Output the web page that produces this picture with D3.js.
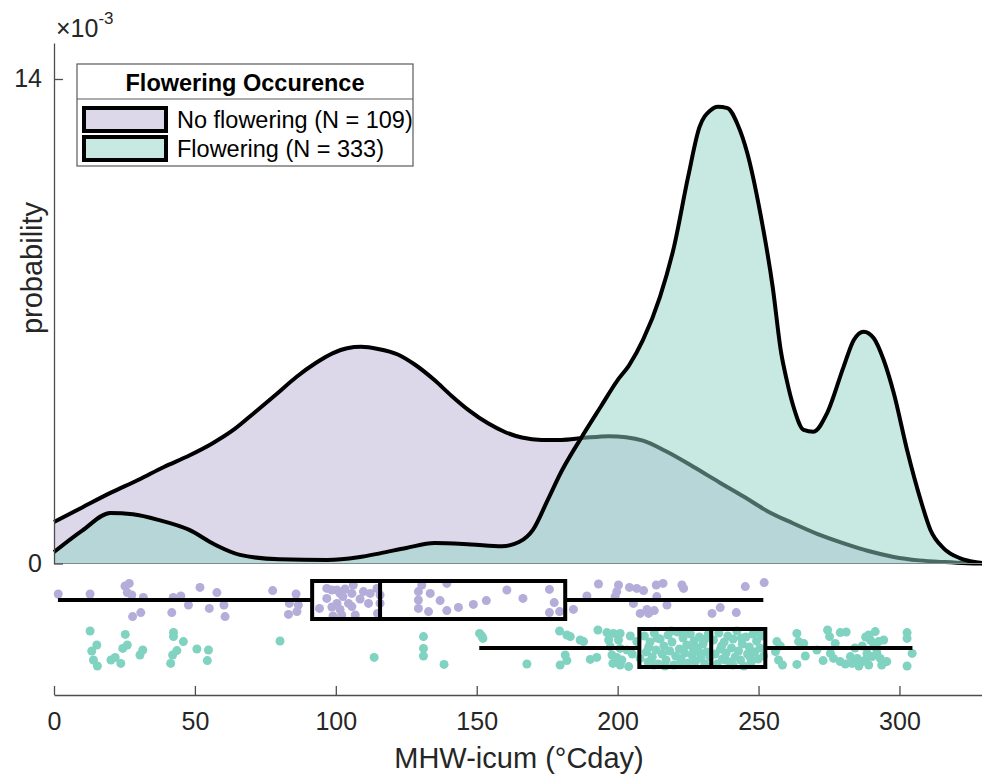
<!DOCTYPE html>
<html lang="en">
<head>
<meta charset="UTF-8">
<title>Flowering occurence raincloud</title>
<script src="https://d3js.org/d3.v7.min.js"></script>
<style>
  body { margin: 0; background: #fff; }
  svg { display: block; font-family: "Liberation Sans", Arial, Helvetica, sans-serif; }
</style>
</head>
<body>
<svg width="982" height="775"></svg>
<script>
// density curves (x in °Cday, y in probability x 1e-3)
const noFlowerDensX = [0, 10, 20, 30, 39, 48, 56, 64, 71, 79, 86, 93, 99, 104, 109, 115, 122, 128, 135, 141, 147, 154, 160, 166, 173, 180, 188, 197, 203, 209, 217, 227, 236, 245, 253, 262, 271, 280, 289, 298, 307, 316, 324, 330];
const noFlowerDensY = [1.20, 1.62, 2.04, 2.42, 2.79, 3.12, 3.46, 3.88, 4.35, 4.90, 5.39, 5.80, 6.08, 6.22, 6.26, 6.20, 6.04, 5.75, 5.30, 4.85, 4.44, 4.05, 3.80, 3.64, 3.57, 3.57, 3.63, 3.68, 3.65, 3.55, 3.25, 2.79, 2.35, 1.92, 1.52, 1.17, 0.85, 0.59, 0.36, 0.19, 0.09, 0.04, 0.01, 0.0];

const flowerDensX = [0, 10, 20, 28, 37, 48, 57, 66, 80, 97, 108, 116, 125, 135, 148, 159, 165, 170, 175, 180, 187, 194, 200, 204, 209, 215, 220, 225, 229, 233, 235.5, 239, 242.5, 246, 250.6, 255, 258, 260, 262.4, 266, 269.5, 274.3, 280.2, 283.8, 287.3, 290.9, 294.4, 298, 302.7, 307.5, 311, 315.7, 321.6, 328.7, 330];
const flowerDensY = [0.33, 0.95, 1.46, 1.42, 1.26, 0.97, 0.55, 0.25, 0.12, 0.10, 0.18, 0.30, 0.45, 0.59, 0.55, 0.50, 0.62, 0.98, 1.80, 2.65, 3.62, 4.53, 5.30, 5.72, 6.46, 7.70, 9.15, 11.17, 12.60, 13.10, 13.20, 13.16, 12.70, 11.86, 10.13, 8.00, 6.10, 5.30, 4.53, 3.86, 3.81, 4.34, 5.69, 6.46, 6.70, 6.51, 5.88, 4.92, 3.28, 1.84, 0.97, 0.44, 0.15, 0.02, 0.0];

// box plot stats: [lower whisker, q1, median, q3, upper whisker]
const noFlowerBox = [1.4, 91.6, 115.7, 181.4, 251.7];
const flowerBox = [150.9, 207.7, 233.2, 252.4, 304.6];

// raw observations: [value, jitter (-1..1)]
const noFlowerPts = [
  [1.5,-0.3],[12.8,-0.3],[25.2,-0.7],[26.7,-0.83],[26.0,-0.37],[27.6,-0.25],[31.7,-0.13],[27.9,0.83],[30.8,0.63],
  [41.8,0.63],[42.3,-0.13],[45.0,-0.2],[47.7,0.25],[51.8,-0.63],[55.1,0.42],[57.8,-0.37],[60.3,0.25],[60.7,0.83],
  [77.6,-0.47],[85.9,-0.3],[83.5,0.17],[86.7,0.25],[86.2,0.58],[83.2,0.72],
  [96.8,-0.58],[98.6,-0.5],[100.4,-0.5],[101.5,-0.33],[102.5,-0.17],[105.7,-0.33],[96.8,-0.08],[100.4,0.17],
  [101.5,0.47],[104.5,0.17],[105.7,0.33],[94.2,0.42],[102.1,0.75],[106.9,0.75],[106.2,-0.75],[109.8,-0.42],
  [112.2,-0.33],[111.6,0.17],[114.6,-0.58],[115.7,-0.25],[115.7,0.17],[114.8,0.67],[98.6,0.35],[103.3,-0.55],
  [108.6,-0.05],[99.0,0.8],
  [130.5,-0.75],[129.3,-0.42],[129.3,0.0],[129.3,0.42],[133.5,-0.33],[137.0,0.03],[132.9,0.58],[139.4,-0.83],
  [139.4,0.53],[143.5,0.37],[148.8,0.22],[153.4,0.03],[160.7,-0.5],[166.4,-0.08],[175.8,-0.53],[177.5,0.13],
  [175.8,0.63],[179.4,0.58],[184.3,0.47],[189.1,-0.2],[193.2,-0.8],[200.3,-0.75],[199.7,-0.42],[199.1,-0.17],
  [204.2,-0.63],[206.8,-0.58],[209.2,-0.47],[213.7,-0.75],[213.9,-0.17],[205.6,0.17],[208.0,0.67],[210.4,0.47],
  [213.0,0.53],[211.0,0.67],[216.1,-0.83],[222.8,-0.75],[223.4,-0.58],[217.5,0.25],[233.5,0.67],[236.4,0.38],
  [242.1,0.63],[245.3,-0.67],[252.0,-0.87]
];

const flowerPts = [
  [12.8,-0.85],[15.2,-0.15],[13.4,0.15],[14.0,0.6],[15.4,0.9],[20.2,0.6],[21.7,0.47],[23.7,0.77],[24.4,0.02],
  [26.0,-0.15],[25.3,-0.68],[30.5,0.35],[31.5,0.1],[42.4,-0.78],[42.4,-0.57],[45.9,-0.32],[43.6,0.13],[42.1,0.35],
  [41.4,0.77],[50.7,0.05],[54.8,0.1],[54.4,0.63],[80.2,-0.35],[113.6,0.47],[131.1,-0.57],[131.1,0.02],[131.1,0.4],
  [138.4,0.82],[151.0,-0.73],[151.8,-0.6],[152.2,-0.48],[167.8,0.8],
  [179.4,-0.85],[182.0,-0.65],[183.2,-0.57],[186.7,-0.4],[187.9,-0.32],[193.0,-0.9],[196.2,-0.77],[198.5,-0.73],
  [200.9,-0.73],[196.8,-0.4],[200.3,-0.4],[197.4,-0.07],[200.9,0.02],[203.3,0.1],[181.4,0.35],[182.0,0.63],
  [179.6,0.85],[190.3,0.57],[192.6,0.47],[198.0,0.35],[199.7,0.47],[201.5,0.6],[198.3,0.77],[200.9,0.85],
  [203.9,0.93],[206.8,-0.32],[208.0,0.52],[204.5,-0.6],[205.2,0.3],
  [209.5,-0.6],[210.2,0.2],[210.8,0.7],[211.5,-0.3],[212.3,0.45],[213.0,-0.75],[213.6,0.1],[214.4,0.8],
  [215.1,-0.45],[215.8,0.3],[216.4,-0.1],[217.2,0.6],[217.9,-0.65],[218.5,0.15],[219.3,-0.3],[219.9,0.85],
  [220.6,0.4],[221.2,-0.8],[221.9,0.05],[222.5,0.55],[223.2,-0.5],[223.8,0.25],[224.5,-0.15],[225.1,0.75],
  [225.8,-0.7],[226.4,0.35],[227.1,-0.35],[227.7,0.65],[228.4,0.0],[229.0,-0.55],[229.6,0.5],[230.3,-0.2],
  [230.9,0.8],[231.6,0.2],[232.2,-0.7],[232.8,0.45],[211.0,-0.05],[214.0,-0.5],[216.8,0.9],[219.0,-0.85],
  [222.0,0.8],[224.0,-0.75],[226.9,0.05],[229.2,0.25],[231.0,-0.45],[212.8,0.85],
  [234.0,-0.4],[234.6,0.3],[235.3,0.8],[235.9,-0.75],[236.5,0.05],[237.2,0.55],[237.8,-0.3],[238.5,0.25],
  [239.1,-0.6],[239.8,0.7],[240.4,0.0],[241.0,-0.45],[241.7,0.45],[242.3,-0.85],[242.9,0.15],[243.6,0.6],
  [244.2,-0.2],[244.8,0.9],[245.5,-0.55],[246.1,0.3],[246.7,-0.05],[247.4,0.7],[248.0,-0.7],[248.6,0.2],
  [249.3,-0.35],[249.9,0.55],[250.5,0.0],[251.2,-0.6],[251.8,0.4],[236.9,-0.1],[240.9,0.85],[243.9,-0.5],
  [247.0,0.45],[250.0,-0.8],[238.2,0.6],
  [256.5,-0.32],[256.0,0.18],[257.1,0.6],[257.7,-0.1],[258.5,0.85],
  [263.6,-0.73],[264.2,-0.32],[266.0,-0.23],[266.6,0.4],[263.6,0.82],[270.7,0.1],[272.9,0.63],[274.5,-0.9],
  [275.2,-0.57],[279.0,-0.77],[281.1,-0.8],[277.2,-0.23],[275.5,0.27],[276.6,0.52],[279.0,0.68],[280.8,0.8],
  [282.6,0.43],[285.0,0.52],[283.2,0.77],[286.7,0.68],[289.1,-0.65],[291.4,-0.82],[289.7,-0.4],[290.8,-0.23],
  [292.6,-0.32],[294.4,-0.4],[288.5,0.27],[290.3,0.43],[292.0,0.27],[293.2,0.52],[289.1,0.85],[295.5,0.68],
  [284.2,0.0],[286.8,-0.1],[287.9,0.6],[291.9,0.05],[293.7,0.85],[285.6,0.9],[288.0,-0.55],
  [302.7,-0.77],[302.7,-0.48],[304.5,0.27],[302.7,0.9]
];

const groups = ["No flowering", "Flowering"];
const groupN = [109, 333];
const xTicks = [0, 50, 100, 150, 200, 250, 300];
const yTicks = [0, 14];

const svg = d3.select("svg");

const x = d3.scaleLinear().domain([0, 330]).range([54, 984]);
const y = d3.scaleLinear().domain([0, 15.04]).range([563.5, 43]);
const row = d3.scalePoint().domain(groups).range([600, 648]);
const jit = d3.scaleLinear().domain([-1, 1]).range([-20, 20]);

const fillCol = { "No flowering": "rgb(185,178,214)", "Flowering": "rgb(143,211,197)" };
const dotCol = { "No flowering": "#b4acd9", "Flowering": "#80d2c1" };

// densities
const dens = [
  { g: "No flowering", xs: noFlowerDensX, ys: noFlowerDensY },
  { g: "Flowering", xs: flowerDensX, ys: flowerDensY }
];

const area = d3.area()
  .x(d => x(d[0]))
  .y0(y(0))
  .y1(d => y(d[1]))
  .curve(d3.curveMonotoneX);
const line = d3.line()
  .x(d => x(d[0]))
  .y(d => y(d[1]))
  .curve(d3.curveMonotoneX);

dens.forEach(d => {
  const pts = d.xs.map((v, i) => [v, d.ys[i]]);
  const g = svg.append("g");
  g.append("path")
    .attr("d", area(pts))
    .attr("fill", fillCol[d.g])
    .attr("fill-opacity", 0.5);
  g.append("path")
    .attr("d", line(pts))
    .attr("fill", "none")
    .attr("stroke", "#000")
    .attr("stroke-width", 4)
    .attr("stroke-linejoin", "round");
});

// baseline under the clouds
svg.append("line")
  .attr("x1", x(0)).attr("x2", x(330))
  .attr("y1", y(0)).attr("y2", y(0))
  .attr("stroke", "#7f8c8c").attr("stroke-width", 1.2);

// rain (points)
[["No flowering", noFlowerPts], ["Flowering", flowerPts]].forEach(([g, pts]) => {
  svg.append("g").selectAll("circle")
    .data(pts)
    .enter().append("circle")
    .attr("cx", d => x(d[0]))
    .attr("cy", d => row(g) + jit(d[1]))
    .attr("r", 4.5)
    .attr("fill", dotCol[g]);
});

// box plots
[["No flowering", noFlowerBox], ["Flowering", flowerBox]].forEach(([g, b]) => {
  const cy = row(g);
  const h = 38;
  const bg = svg.append("g").attr("stroke", "#000").attr("stroke-width", 4).attr("fill", "none");
  bg.append("line").attr("x1", x(b[0])).attr("x2", x(b[1])).attr("y1", cy).attr("y2", cy);
  bg.append("line").attr("x1", x(b[3])).attr("x2", x(b[4])).attr("y1", cy).attr("y2", cy);
  bg.append("rect").attr("x", x(b[1])).attr("y", cy - h / 2)
    .attr("width", x(b[3]) - x(b[1])).attr("height", h);
  bg.append("line").attr("x1", x(b[2])).attr("x2", x(b[2])).attr("y1", cy - h / 2).attr("y2", cy + h / 2);
});

// x axis
const xAxisY = 695;
const xa = svg.append("g").attr("transform", `translate(0,${xAxisY})`)
  .call(d3.axisBottom(x).tickValues(xTicks).tickSizeInner(-9).tickSizeOuter(0).tickPadding(17));
xa.select(".domain").attr("stroke", "#4d4d4d").attr("stroke-width", 1.3);
xa.selectAll(".tick line").attr("stroke", "#4d4d4d").attr("stroke-width", 1.3);
xa.selectAll(".tick text").attr("font-size", 25).attr("fill", "#262626");

svg.append("text")
  .attr("x", (x(0) + x(330)) / 2).attr("y", 768)
  .attr("text-anchor", "middle")
  .attr("font-size", 29).attr("fill", "#262626")
  .text("MHW-icum (°Cday)");

// y axis (density part only)
const ya = svg.append("g").attr("transform", `translate(${x(0)},0)`)
  .call(d3.axisLeft(y).tickValues(yTicks).tickSizeInner(-9).tickSizeOuter(0).tickPadding(12));
ya.select(".domain").attr("stroke", "#4d4d4d").attr("stroke-width", 1.3);
ya.selectAll(".tick line").attr("stroke", "#4d4d4d").attr("stroke-width", 1.3);
ya.selectAll(".tick text").attr("font-size", 25).attr("fill", "#262626");

const expo = svg.append("text").attr("x", 56).attr("y", 37).attr("font-size", 25).attr("fill", "#262626");
expo.append("tspan").text("\u00d710");
expo.append("tspan").attr("dy", -13).attr("font-size", 17).text("-3");

svg.append("text")
  .attr("transform", "translate(42,268) rotate(-90)")
  .attr("text-anchor", "middle")
  .attr("font-size", 29).attr("fill", "#262626")
  .text("probability");

// legend
const lg = svg.append("g").attr("transform", "translate(77,64)");
lg.append("rect").attr("width", 336).attr("height", 102)
  .attr("fill", "#fff").attr("stroke", "#5a5a5a").attr("stroke-width", 1.2);
lg.append("line").attr("x1", 0).attr("x2", 336).attr("y1", 35).attr("y2", 35)
  .attr("stroke", "#5a5a5a").attr("stroke-width", 1.2);
lg.append("text").attr("x", 168).attr("y", 27).attr("text-anchor", "middle")
  .attr("font-size", 23.5).attr("font-weight", "bold").attr("fill", "#000")
  .text("Flowering Occurence");

const items = lg.selectAll(".item")
  .data(groups)
  .enter().append("g")
  .attr("class", "item")
  .attr("transform", (d, i) => `translate(7,${44 + i * 29})`);
items.append("rect")
  .attr("width", 82).attr("height", 23)
  .attr("fill", d => fillCol[d]).attr("fill-opacity", 0.5)
  .attr("stroke", "#000").attr("stroke-width", 4);
items.append("text")
  .attr("x", 93).attr("y", 20)
  .attr("font-size", 23.5).attr("fill", "#000")
  .text((d, i) => `${d} (N = ${groupN[i]})`);
</script>
</body>
</html>
